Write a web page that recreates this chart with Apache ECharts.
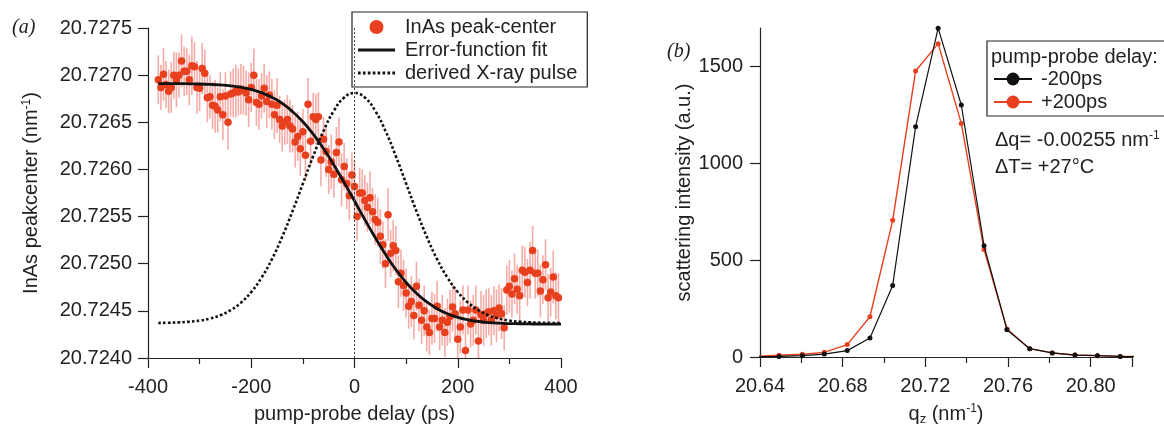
<!DOCTYPE html>
<html lang="en">
<head>
<meta charset="UTF-8">
<title>InAs peak center</title>
<script src="https://cdn.jsdelivr.net/npm/echarts@6/dist/echarts.min.js"></script>
<style>
    html, body { margin: 0; padding: 0; background: #fff; }
    #chart { width: 1164px; height: 436px; }
</style>
</head>
<body>
<div id="chart"></div>
<script>
// (a) measured peak centre vs delay
var delays = [
    -380,-375,-370,-365,-360,-355,-350,-345,-340,-335,-330,-325,-320,-315,-310,-305,-300,-295,-290,-285,
    -280,-275,-270,-265,-260,-255,-250,-245,-240,-235,-230,-225,-220,-215,-210,-205,-200,-195,-190,-185,
    -180,-175,-170,-165,-160,-155,-150,-145,-140,-135,-130,-125,-120,-115,-110,-105,-100,-95,-90,-85,
    -80,-75,-70,-65,-60,-55,-50,-45,-40,-35,-30,-25,-20,-15,-10,-5,0,5,10,15,
    20,25,30,35,40,45,50,55,60,65,70,75,80,85,90,95,100,105,110,115,
    120,125,130,135,140,145,150,155,160,165,170,175,180,185,190,195,200,205,210,215,
    220,225,230,235,240,245,250,255,260,265,270,275,280,285,290,295,300,305,310,315,
    320,325,330,335,340,345,350,355,360,365,370,375,380,385,390,395
];
var peakCenter = [
    20.72695,20.72687,20.72701,20.72690,20.72683,20.72687,20.72700,20.72695,20.72700,20.72715,
    20.72704,20.72704,20.72695,20.72710,20.72709,20.72687,20.72686,20.72707,20.72702,20.72676,
    20.72677,20.72668,20.72667,20.72663,20.72677,20.72658,20.72678,20.72650,20.72680,20.72681,
    20.72683,20.72682,20.72685,20.72684,20.72681,20.72674,20.72687,20.72700,20.72671,20.72669,
    20.72678,20.72686,20.72672,20.72679,20.72669,20.72658,20.72668,20.72653,20.72646,20.72650,
    20.72653,20.72646,20.72643,20.72629,20.72635,20.72622,20.72640,20.72615,20.72669,20.72630,
    20.72656,20.72653,20.72656,20.72610,20.72632,20.72619,20.72600,20.72608,20.72595,20.72618,
    20.72629,20.72589,20.72603,20.72585,20.72572,20.72594,20.72582,20.72550,20.72575,20.72575,
    20.72567,20.72560,20.72570,20.72555,20.72547,20.72544,20.72529,20.72520,20.72500,20.72552,
    20.72511,20.72519,20.72514,20.72481,20.72490,20.72477,20.72469,20.72455,20.72460,20.72445,
    20.72476,20.72456,20.72440,20.72450,20.72433,20.72427,20.72442,20.72442,20.72455,20.72433,
    20.72440,20.72427,20.72438,20.72444,20.72454,20.72447,20.72420,20.72433,20.72451,20.72408,
    20.72451,20.72436,20.72440,20.72451,20.72418,20.72446,20.72440,20.72447,20.72449,20.72440,
    20.72450,20.72445,20.72453,20.72447,20.72432,20.72472,20.72476,20.72468,20.72484,20.72473,
    20.72466,20.72493,20.72491,20.72480,20.72493,20.72514,20.72490,20.72490,20.72471,20.72483,
    20.72499,20.72464,20.72470,20.72486,20.72466,20.72464
];
// half length of the error bars, in 1e-4 nm^-1
var peakError = [
    2.6,2.4,2.8,2.5,2.3,2.7,2.5,2.9,2.4,2.8, 2.6,2.5,2.7,3.1,2.6,2.8,2.4,2.7,2.5,2.6,
    2.3,2.5,2.8,2.4,2.6,2.7,2.5,2.9,2.4,2.6, 2.8,2.5,2.7,2.6,2.4,2.9,2.6,2.8,2.5,2.7,
    2.4,2.6,2.8,2.5,2.7,2.6,2.9,2.5,2.7,2.4, 2.6,2.8,2.5,2.7,2.6,2.9,2.4,2.7,2.8,2.6,
    2.5,2.7,2.6,2.8,2.4,2.7,2.6,2.9,2.5,2.7, 2.6,2.8,2.5,2.7,2.6,2.4,2.8,2.6,2.7,2.5,
    2.7,2.6,2.8,2.5,2.7,2.6,2.9,2.5,2.6,2.8, 2.5,2.7,2.6,2.8,2.5,2.7,2.6,2.4,2.7,2.5,
    2.6,2.8,2.5,2.7,2.6,2.4,2.8,2.6,2.7,2.5, 2.7,2.6,2.5,2.8,2.6,2.7,2.5,2.8,2.6,2.9,
    2.6,2.5,2.7,2.6,2.8,2.5,2.7,2.6,2.5,2.7, 2.6,2.8,2.5,2.7,2.4,2.6,2.8,2.5,2.7,2.6,
    2.8,2.6,2.7,2.5,3.0,2.6,2.7,2.5,2.8,2.6, 2.7,2.5,2.6,2.8,2.5,2.6
];
// error-function fit and the x-ray pulse
var fitDelays = [-380,-360,-340,-320,-300,-280,-260,-240,-220,-200,-180,-160,-140,-120,-100,-80,-60,-40,-20,0,
    20,40,60,80,100,120,140,160,180,200,220,240,260,280,300,320,340,360,380,400];
var fitCurve = [20.72691,20.72691,20.72691,20.726908,20.726906,20.726902,20.726896,20.726887,20.726872,20.726848,
    20.726814,20.726764,20.7267,20.726612,20.726505,20.726374,20.726221,20.726047,20.72586,20.725665,
    20.725468,20.725278,20.7251,20.724939,20.724801,20.724686,20.724594,20.724523,20.724469,20.724431,
    20.724405,20.724387,20.724376,20.724369,20.724365,20.724363,20.724361,20.72436,20.72436,20.72436];
var xrayPulse = [20.724372,20.724374,20.724378,20.724385,20.724397,20.724418,20.724453,20.724507,20.724587,20.7247,
    20.724853,20.725048,20.725286,20.725558,20.72585,20.726142,20.726408,20.726622,20.726762,20.72681,
    20.726762,20.726622,20.726408,20.726142,20.72585,20.725558,20.725286,20.725048,20.724853,20.7247,
    20.724587,20.724507,20.724453,20.724418,20.724397,20.724385,20.724378,20.724374,20.724372,20.724371];

// (b) rocking curves
var qz = [20.6382,20.6492,20.6605,20.6711,20.6822,20.6932,20.7042,20.7153,20.7262,
    20.7374,20.7484,20.7595,20.7705,20.7814,20.7924,20.8033,20.8143,20.8253];
var intensityMinus200 = [2,3,7,15,33,98,370,1190,1699,1302,575,141,43,21,10,7,3,2];
var intensityPlus200 = [4,9,14,24,64,208,706,1478,1619,1207,555,145,43,21,10,7,3,2];

var yTicksB = [0, 500, 1000, 1500];

var font = 'Liberation Sans, Arial, sans-serif';
var fs = 20;
var red = '#e8401e';

// legend samples for the two curves (solid bar and a row of dots)
var solidIcon = 'path://M0,0H37V3H0Z';
var dottedIcon = 'path://M0,0h2.6v3h-2.6z M4.8,0h2.6v3h-2.6z M9.6,0h2.6v3h-2.6z M14.4,0h2.6v3h-2.6z ' +
    'M19.2,0h2.6v3h-2.6z M24,0h2.6v3h-2.6z M28.8,0h2.6v3h-2.6z M33.6,0h2.6v3h-2.6z';

function zip(xs, ys) {
    return xs.map(function (x, i) { return [x, ys[i]]; });
}

var chart = echarts.init(document.getElementById('chart'));

var axisCommon = {
    axisLine: { onZero: false, lineStyle: { color: '#222', width: 1.2 } },
    axisTick: { inside: false, length: 10, lineStyle: { color: '#222', width: 1.2 } },
    minorTick: { length: 6, lineStyle: { color: '#222', width: 1.2 } },
    splitLine: { show: false },
    axisLabel: { color: '#222', fontSize: fs, fontFamily: font },
    nameLocation: 'middle',
    nameTextStyle: { color: '#222', fontSize: fs, fontFamily: font }
};

function axis(extra) {
    var a = JSON.parse(JSON.stringify(axisCommon));
    for (var k in extra) {
        if (typeof extra[k] === 'object' && a[k] && !Array.isArray(extra[k])) {
            for (var j in extra[k]) a[k][j] = extra[k][j];
        } else {
            a[k] = extra[k];
        }
    }
    return a;
}

var option = {
    animation: false,
    backgroundColor: '#fff',
    textStyle: { fontFamily: font },
    grid: [
        { left: 148, right: 603, top: 28, bottom: 78 },
        { left: 760, right: 32, top: 28, bottom: 79 }
    ],
    xAxis: [
        axis({
            gridIndex: 0, type: 'value', min: -400, max: 400, interval: 200,
            minorTick: { show: true, splitNumber: 2 },
            axisLabel: { margin: 19 },
            name: 'pump-probe delay (ps)', nameGap: 46
        }),
        axis({
            gridIndex: 1, type: 'value', min: 20.64, max: 20.82, interval: 0.04,
            minorTick: { show: true, splitNumber: 2 },
            axisLabel: { margin: 19, showMaxLabel: false,
                formatter: function (v) { return v.toFixed(2); } },
            name: 'q{sub|z} (nm{sup|-1})', nameGap: 46,
            nameTextStyle: {
                rich: {
                    sub: { fontSize: 13, verticalAlign: 'bottom', padding: [10, 0, 0, 0] },
                    sup: { fontSize: 12, verticalAlign: 'top' }
                }
            }
        })
    ],
    yAxis: [
        axis({
            gridIndex: 0, type: 'value', min: 20.724, max: 20.7275, interval: 0.0005,
            axisLabel: { margin: 16, formatter: function (v) { return v.toFixed(4); } },
            name: 'InAs peakcenter (nm{sup|-1})', nameGap: 107,
            nameTextStyle: { rich: { sup: { fontSize: 12, verticalAlign: 'top' } } }
        }),
        axis({
            gridIndex: 1, type: 'value', min: 0, max: 1700, interval: 500,
            axisTick: { customValues: yTicksB },
            axisLabel: { margin: 17, customValues: yTicksB,
                formatter: function (v) { return String(v); } },
            name: 'scattering intensity (a.u.)', nameGap: 63
        })
    ],
    legend: [
        {
            data: [
                { name: 'InAs peak-center', icon: 'circle' },
                { name: 'Error-function fit', icon: solidIcon },
                { name: 'derived X-ray pulse', icon: dottedIcon }
            ],
            orient: 'vertical', left: 352, top: 12,
            padding: [5, 10, 4, 6], itemGap: 3,
            itemWidth: 37, itemHeight: 14,
            backgroundColor: '#fff', borderColor: '#222', borderWidth: 1.2,
            textStyle: { fontSize: fs, color: '#222', fontFamily: font, padding: [0, 0, 0, 5] }
        },
        {
            data: ['-200ps', '+200ps'],
            orient: 'vertical', left: 993, top: 69,
            padding: 0, itemGap: 3,
            itemWidth: 38, itemHeight: 16,
            textStyle: { fontSize: fs, color: '#222', fontFamily: font, padding: [0, 0, 0, 4] }
        }
    ],
    graphic: [
        { type: 'text', left: 12, top: 18,
          style: { text: '(a)', font: 'italic 20px "Liberation Serif", serif', fill: '#222' } },
        { type: 'text', left: 667, top: 42,
          style: { text: '(b)', font: 'italic 20px "Liberation Serif", serif', fill: '#222' } },
        { type: 'rect', shape: { x: 987, y: 41, width: 200, height: 75 },
          style: { fill: '#fff', stroke: '#222', lineWidth: 1.2 }, z: 1 },
        { type: 'text', x: 991, y: 47, z: 2,
          style: { text: 'pump-probe delay:', font: fs + 'px ' + font, fill: '#222' } },
        { type: 'text', x: 995, y: 130, z: 2,
          style: {
              text: '{t|Δq= -0.00255 nm}{s|-1}',
              rich: {
                  t: { font: fs + 'px ' + font, fill: '#222' },
                  s: { font: '12px ' + font, fill: '#222', verticalAlign: 'top' }
              }
          } },
        { type: 'text', x: 995, y: 157, z: 2,
          style: { text: 'ΔT= +27°C', font: fs + 'px ' + font, fill: '#222' } }
    ],
    series: [
        {
            name: 'error bars', type: 'custom', xAxisIndex: 0, yAxisIndex: 0,
            silent: true, clip: true, z: 1,
            data: delays.map(function (d, i) {
                return [d, peakCenter[i] - peakError[i] * 1e-4, peakCenter[i] + peakError[i] * 1e-4];
            }),
            encode: { x: 0, y: [1, 2] },
            renderItem: function (params, api) {
                var lo = api.coord([api.value(0), api.value(1)]);
                var hi = api.coord([api.value(0), api.value(2)]);
                return {
                    type: 'line',
                    shape: { x1: lo[0], y1: lo[1], x2: hi[0], y2: hi[1] },
                    style: { stroke: 'rgba(236, 90, 80, 0.5)', lineWidth: 1.6 }
                };
            }
        },
        {
            name: 'InAs peak-center', type: 'scatter', xAxisIndex: 0, yAxisIndex: 0,
            data: zip(delays, peakCenter), symbolSize: 7.5,
            itemStyle: { color: red, opacity: 1 }, z: 2
        },
        {
            name: 'Error-function fit', type: 'line', xAxisIndex: 0, yAxisIndex: 0,
            data: zip(fitDelays, fitCurve), smooth: true, symbol: 'none',
            lineStyle: { color: '#111', width: 2.8 }, itemStyle: { color: '#111' }, z: 4
        },
        {
            name: 'derived X-ray pulse', type: 'line', xAxisIndex: 0, yAxisIndex: 0,
            data: zip(fitDelays, xrayPulse), smooth: true, symbol: 'none',
            lineStyle: { color: '#111', width: 2.6, type: [2.6, 2.2] }, itemStyle: { color: '#111' }, z: 3,
            markLine: {
                silent: true, symbol: 'none', label: { show: false },
                lineStyle: { color: '#444', width: 1, type: [2, 2] },
                data: [{ xAxis: 0 }]
            }
        },
        {
            name: '-200ps', type: 'line', xAxisIndex: 1, yAxisIndex: 1,
            data: zip(qz, intensityMinus200), symbol: 'circle', symbolSize: 5,
            lineStyle: { color: '#111', width: 1.2 }, itemStyle: { color: '#111' }, z: 3
        },
        {
            name: '+200ps', type: 'line', xAxisIndex: 1, yAxisIndex: 1,
            data: zip(qz, intensityPlus200), symbol: 'circle', symbolSize: 5,
            lineStyle: { color: red, width: 1.4 }, itemStyle: { color: red }, z: 2
        }
    ]
};

chart.setOption(option);
</script>
</body>
</html>
